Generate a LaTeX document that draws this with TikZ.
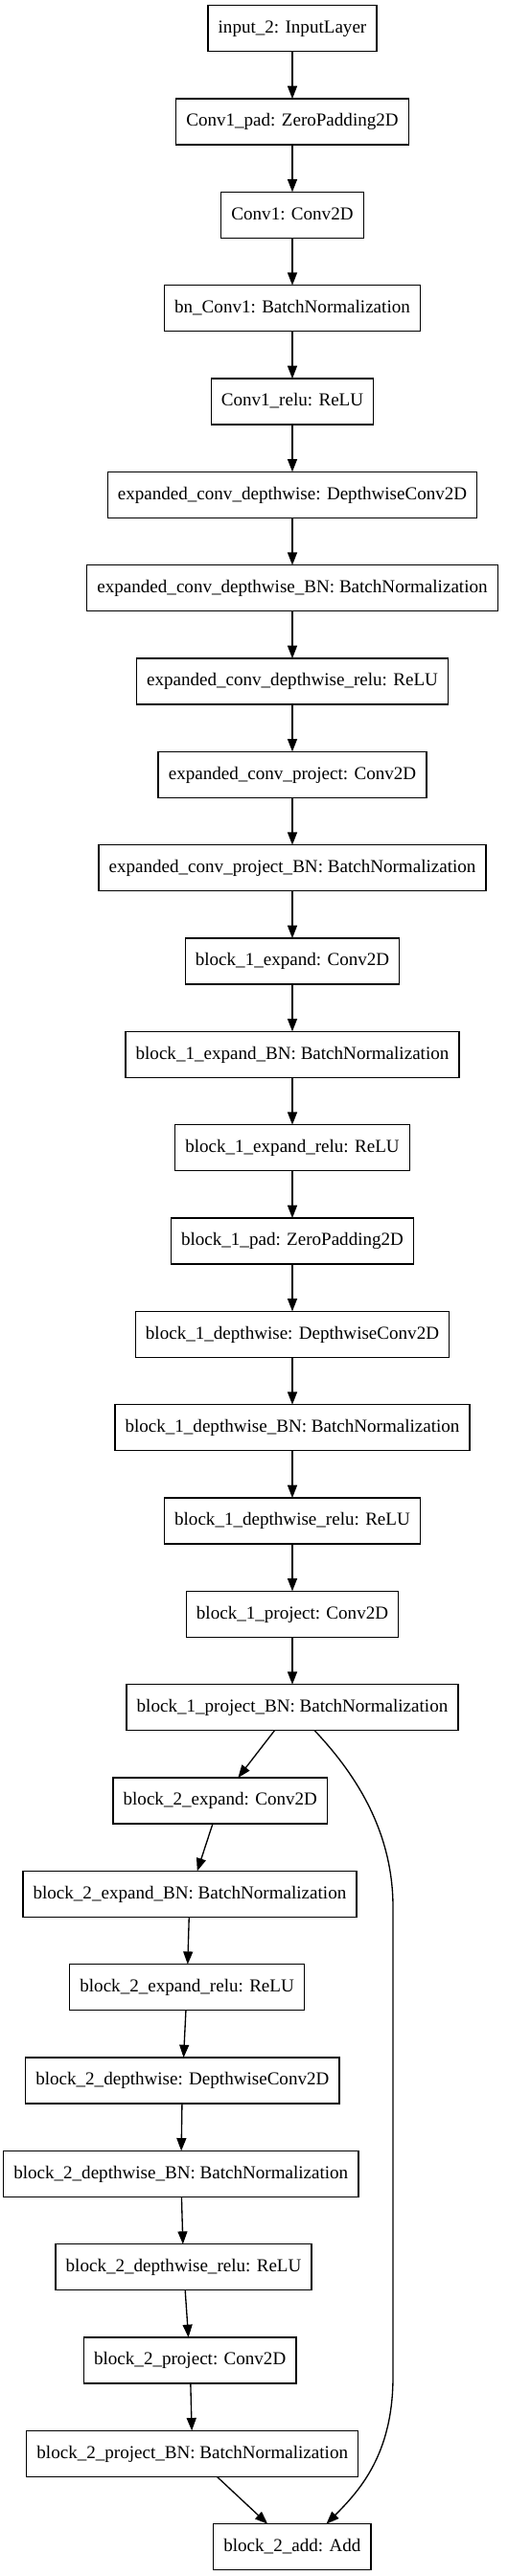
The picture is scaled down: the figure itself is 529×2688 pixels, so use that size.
\documentclass[tikz,border=0pt]{standalone}
\usepackage{fontspec}
\setmainfont{Liberation Serif}
\usetikzlibrary{arrows.meta, positioning}
\tikzset{
  layerbox/.style={draw, line width=1pt, rectangle, minimum height=36pt, inner xsep=8pt,
                   outer sep=0pt, text height=10pt, text depth=3pt,
                   font=\fontsize{14.3pt}{16pt}\selectfont},
  flow/.style={-{Triangle[length=10pt, width=7.5pt]}, line width=1pt},
}

\begin{document}
\begin{tikzpicture}[x=0.75pt, y=-0.75pt, node distance=37pt]
\useasboundingbox (0,0) rectangle (529,2688);
% stem and first inverted residual block
\node[layerbox] (in2) at (305,29.7) {input\_2: InputLayer};
\node[layerbox, below=of in2] (c1pad) {Conv1\_pad: ZeroPadding2D};
\node[layerbox, below=of c1pad] (c1) {Conv1: Conv2D};
\node[layerbox, below=of c1] (bnc1) {bn\_Conv1: BatchNormalization};
\node[layerbox, below=of bnc1] (c1relu) {Conv1\_relu: ReLU};
\node[layerbox, below=of c1relu] (ecdw) {expanded\_conv\_depthwise: DepthwiseConv2D};
\node[layerbox, below=of ecdw] (ecdwbn) {expanded\_conv\_depthwise\_BN: BatchNormalization};
\node[layerbox, below=of ecdwbn] (ecdwrelu) {expanded\_conv\_depthwise\_relu: ReLU};
\node[layerbox, below=of ecdwrelu] (ecproj) {expanded\_conv\_project: Conv2D};
\node[layerbox, below=of ecproj] (ecprojbn) {expanded\_conv\_project\_BN: BatchNormalization};
% block 1
\node[layerbox, below=of ecprojbn] (b1exp) {block\_1\_expand: Conv2D};
\node[layerbox, below=of b1exp] (b1expbn) {block\_1\_expand\_BN: BatchNormalization};
\node[layerbox, below=of b1expbn] (b1exprelu) {block\_1\_expand\_relu: ReLU};
\node[layerbox, below=of b1exprelu] (b1pad) {block\_1\_pad: ZeroPadding2D};
\node[layerbox, below=of b1pad] (b1dw) {block\_1\_depthwise: DepthwiseConv2D};
\node[layerbox, below=of b1dw] (b1dwbn) {block\_1\_depthwise\_BN: BatchNormalization};
\node[layerbox, below=of b1dwbn] (b1dwrelu) {block\_1\_depthwise\_relu: ReLU};
\node[layerbox, below=of b1dwrelu] (b1proj) {block\_1\_project: Conv2D};
\node[layerbox, below=of b1proj] (b1projbn) {block\_1\_project\_BN: BatchNormalization};
% block 2, shifted left of the skip
\node[layerbox, below=of b1projbn, xshift=-56.4pt] (b2exp) {block\_2\_expand: Conv2D};
\node[layerbox, below=of b2exp, xshift=-23.9pt] (b2expbn) {block\_2\_expand\_BN: BatchNormalization};
\node[layerbox, below=of b2expbn, xshift=-2.1pt] (b2exprelu) {block\_2\_expand\_relu: ReLU};
\node[layerbox, below=of b2exprelu, xshift=-3.6pt] (b2dw) {block\_2\_depthwise: DepthwiseConv2D};
\node[layerbox, below=of b2dw, xshift=-1.2pt] (b2dwbn) {block\_2\_depthwise\_BN: BatchNormalization};
\node[layerbox, below=of b2dwbn, xshift=2.1pt] (b2dwrelu) {block\_2\_depthwise\_relu: ReLU};
\node[layerbox, below=of b2dwrelu, xshift=5pt] (b2proj) {block\_2\_project: Conv2D};
\node[layerbox, below=of b2proj, xshift=1.9pt] (b2projbn) {block\_2\_project\_BN: BatchNormalization};
\node[layerbox, below=of b2projbn, xshift=78.1pt] (b2add) {block\_2\_add: Add};

\foreach \a/\b in {in2/c1pad, c1pad/c1, c1/bnc1, bnc1/c1relu, c1relu/ecdw, ecdw/ecdwbn,
    ecdwbn/ecdwrelu, ecdwrelu/ecproj, ecproj/ecprojbn, ecprojbn/b1exp, b1exp/b1expbn,
    b1expbn/b1exprelu, b1exprelu/b1pad, b1pad/b1dw, b1dw/b1dwbn, b1dwbn/b1dwrelu,
    b1dwrelu/b1proj, b1proj/b1projbn, b1projbn/b2exp, b2exp/b2expbn, b2expbn/b2exprelu,
    b2exprelu/b2dw, b2dw/b2dwbn, b2dwbn/b2dwrelu, b2dwrelu/b2proj, b2proj/b2projbn,
    b2projbn/b2add}
  \draw[flow] (\a) -- (\b);

% skip connection
\coordinate (skiptop) at (410,1990);
\coordinate (skipbot) at (410,2480);
\draw[flow] (b1projbn.-46) .. controls (370,1850) and (410,1910) .. (skiptop)
  -- (skipbot) .. controls (410,2560) and (376,2598) .. (b2add.34);
\end{tikzpicture}
\end{document}
